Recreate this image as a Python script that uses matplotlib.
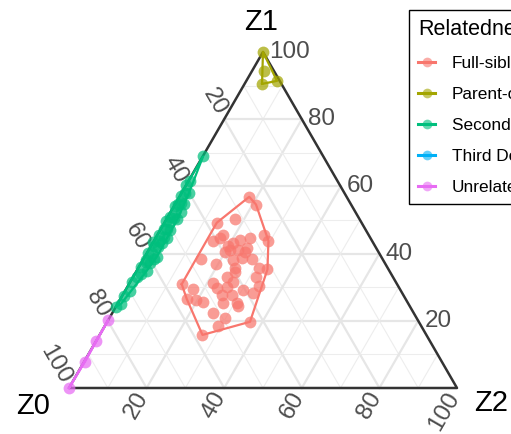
import numpy as np
import matplotlib.pyplot as plt
from matplotlib.lines import Line2D

plt.rcParams['font.family'] = ['Liberation Sans', 'DejaVu Sans']

# Relatedness groups and their colours
groups = ['Full-siblings', 'Parent-offspring', 'Second Degree', 'Third Degree', 'Unrelated']
colours = ['#F8766D', '#A3A500', '#00BF7D', '#00B0F6', '#E76BF3']

# IBD proportions (%) per pair: Z0, Z1, Z2
fs_z0 = [25.1, 24.5, 32.1, 37.3, 40.9, 37.5, 38.8, 33.9, 31.0, 26.9, 26.7, 39.5, 37.9, 35.8,
         33.4, 33.7, 36.2, 46.9, 43.7, 39.4, 39.9, 33.2, 31.2, 35.3, 42.8, 55.5, 53.3, 47.2,
         47.1, 44.3, 40.5, 35.8, 38.3, 56.4, 54.2, 52.8, 46.8, 47.6, 44.2, 44.2, 44.2, 51.9,
         49.5, 52.4, 43.5, 57.7, 37.9, 36.1, 38.6, 34.3, 41.9]
fs_z1 = [56.9, 54.6, 50.2, 49.2, 43.8, 45.5, 44.6, 44.0, 44.6, 45.5, 43.8, 40.6, 41.1, 41.1,
         41.6, 38.4, 38.6, 38.4, 36.9, 35.6, 34.6, 35.6, 35.3, 33.1, 33.1, 30.9, 29.4, 31.2,
         29.7, 30.1, 29.2, 30.4, 28.4, 26.5, 26.2, 25.5, 27.7, 25.2, 27.7, 25.2, 24.4, 22.2,
         20.7, 18.5, 19.7, 15.8, 42.3, 43.2, 38.1, 40.6, 31.6]
fs_z2 = [18.0, 20.9, 17.7, 13.5, 15.3, 17.0, 16.6, 22.1, 24.4, 27.6, 29.5, 19.9, 21.0, 23.1,
         25.0, 27.9, 25.2, 14.7, 19.4, 25.0, 25.5, 31.2, 33.5, 31.6, 24.1, 13.6, 17.3, 21.6,
         23.2, 25.6, 30.3, 33.8, 33.3, 17.1, 19.6, 21.7, 25.5, 27.2, 28.1, 30.6, 31.4, 25.9,
         29.8, 29.1, 36.8, 26.5, 19.8, 20.7, 23.3, 25.1, 26.5]

po_z0 = [0.0, 2.6, 5.0, 0.7]
po_z1 = [100.0, 94.3, 90.5, 91.4]
po_z2 = [0.0, 3.1, 4.5, 7.9]

sd_z0 = [31.0, 38.0, 39.5, 40.2, 41.0, 42.5, 43.0, 43.5, 44.5, 45.0, 45.5, 46.5, 47.0, 47.5,
         48.5, 49.2, 50.0, 50.5, 51.0, 52.0, 52.5, 53.0, 54.0, 54.5, 55.0, 56.0, 56.5, 57.0,
         57.8, 58.5, 59.0, 59.5, 60.5, 61.0, 61.5, 62.5, 63.5, 64.5, 66.0, 68.0, 70.0, 72.1,
         74.0, 75.8]
sd_z2 = [0.1, 0.3, 0.0, 1.9, 0.9, 0.4, 2.3, 1.4, 0.6, 2.6, 0.2, 1.1, 2.8, 1.8,
         0.5, 1.3, 0.2, 2.5, 1.6, 0.8, 2.9, 2.0, 0.4, 2.4, 1.2, 1.9, 0.0, 0.6,
         3.1, 1.4, 2.7, 0.3, 2.2, 0.8, 1.0, 2.6, 0.5, 1.5, 0.9, 0.4, 1.2, 0.5,
         0.9, 0.0]
sd_z1 = [100 - a - b for a, b in zip(sd_z0, sd_z2)]

td_z0, td_z1, td_z2 = [], [], []

un_z0 = [79.8, 85.9, 92.0, 100.0]
un_z1 = [20.2, 14.1, 7.8, 0.0]
un_z2 = [0.0, 0.0, 0.2, 0.0]

data = [(fs_z0, fs_z1, fs_z2), (po_z0, po_z1, po_z2), (sd_z0, sd_z1, sd_z2),
        (td_z0, td_z1, td_z2), (un_z0, un_z1, un_z2)]

ticks = [20, 40, 60, 80, 100]
H = np.sqrt(3) / 2


def tern(z0, z1, z2):
    z0, z1, z2 = (np.asarray(v, dtype=float) for v in (z0, z1, z2))
    s = z0 + z1 + z2
    return (z2 + z1 / 2) / s, z1 * H / s


def hull(x, y):
    pts = sorted(set(zip(np.round(x, 6), np.round(y, 6))))
    if len(pts) < 3:
        return pts

    def cross(o, a, b):
        return (a[0] - o[0]) * (b[1] - o[1]) - (a[1] - o[1]) * (b[0] - o[0])

    lower, upper = [], []
    for p in pts:
        while len(lower) >= 2 and cross(lower[-2], lower[-1], p) <= 0:
            lower.pop()
        lower.append(p)
    for p in reversed(pts):
        while len(upper) >= 2 and cross(upper[-2], upper[-1], p) <= 0:
            upper.pop()
        upper.append(p)
    return lower[:-1] + upper[:-1]


fig = plt.figure(figsize=(5.11, 4.34), dpi=100)
ax = fig.add_axes([0, 0, 1, 1])
ax.set_xlim(-69 / 388, 442 / 388)
ax.set_ylim(-46 / 388, 1.0)
ax.axis('off')

# grid: minor every 10, major every 20
for v in range(10, 100, 10):
    f = v / 100
    major = v % 20 == 0
    kw = dict(color='#E6E6E6' if major else '#EDEDED', lw=1.6 if major else 0.8, zorder=1)
    # constant Z1 (horizontal)
    xa, ya = tern([1 - f, 0], [f, f], [0, 1 - f])
    ax.plot(xa, ya, **kw)
    # constant Z2
    xa, ya = tern([1 - f, 0], [0, 1 - f], [f, f])
    ax.plot(xa, ya, **kw)
    # constant Z0
    xa, ya = tern([f, f], [1 - f, 0], [0, 1 - f])
    ax.plot(xa, ya, **kw)

# triangle outline
bx, by = tern([1, 0, 0, 1], [0, 1, 0, 0], [0, 0, 1, 0])
ax.plot(bx, by, color='#333333', lw=1.8, zorder=2, solid_capstyle='round')

# tick labels
off = 0.016
for v in ticks:
    f = v / 100
    x, y = tern(f, 1 - f, 0)
    ax.text(x - 0.5 * off, y + H * off, str(v), rotation=-60, rotation_mode='anchor',
            ha='right', va='center', fontsize=17.5, color='#4D4D4D')
    x, y = tern(1 - f, 0, f)
    ax.text(x - 0.5 * off, y - H * off, str(v), rotation=60, rotation_mode='anchor',
            ha='right', va='center', fontsize=17.5, color='#4D4D4D')
    x, y = tern(0, f, 1 - f)
    ax.text(x + off, y, str(v), ha='left', va='center', fontsize=17.5, color='#4D4D4D')

# vertex titles
ax.text(0.496, H + 0.076, 'Z1', ha='center', va='center', fontsize=21)
ax.text(-0.0915, -0.0464, 'Z0', ha='center', va='center', fontsize=21)
ax.text(1.0876, -0.0387, 'Z2', ha='center', va='center', fontsize=21)

# points and convex hulls per group
for (z0, z1, z2), col in zip(data, colours):
    if not z0:
        continue
    x, y = tern(z0, z1, z2)
    ax.plot(x, y, 'o', ms=8.5, color=col, alpha=0.72, mec='none', zorder=3)
    h = hull(x, y)
    hx = [p[0] for p in h] + [h[0][0]]
    hy = [p[1] for p in h] + [h[0][1]]
    ax.plot(hx, hy, color=col, lw=1.6, zorder=4)

handles = [Line2D([], [], color=c, lw=2.2, marker='o', ms=7, mfc=c + '99', mec='none')
           for c in colours]
leg = fig.legend(handles, groups, title='Relatedness', loc='upper left',
                 bbox_to_anchor=(409 / 511, 1 - 10 / 434), borderaxespad=0, fontsize=12.4,
                 title_fontsize=15.5, frameon=True, fancybox=False, framealpha=1,
                 edgecolor='black', handlelength=0.95, handletextpad=1.0,
                 labelspacing=0.92, borderpad=0.55, alignment='left')
leg.get_frame().set_linewidth(1.0)

plt.savefig('out.png', dpi=100)
